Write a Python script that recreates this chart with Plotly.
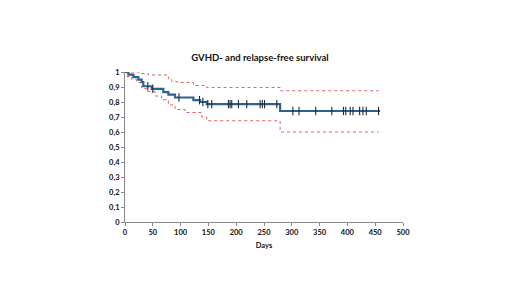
import plotly.graph_objects as go
import numpy as np

# Kaplan-Meier step data (estimated)
km_days = [0, 6, 15, 24, 30, 33, 48, 69, 78, 90, 123, 135, 147, 279, 459]
km_surv = [1.0, 0.983, 0.966, 0.949, 0.932, 0.905, 0.888, 0.866, 0.849, 0.830, 0.812, 0.800, 0.786, 0.740, 0.740]

upper_days = [0, 27, 42, 78, 84, 96, 123, 147, 279, 456]
upper_vals = [1.0, 0.99, 0.98, 0.955, 0.935, 0.93, 0.91, 0.897, 0.875, 0.875]

lower_days = [0, 3, 12, 21, 30, 39, 54, 66, 78, 90, 108, 138, 147, 279, 456]
lower_vals = [1.0, 0.97, 0.95, 0.93, 0.89, 0.87, 0.84, 0.815, 0.78, 0.75, 0.73, 0.70, 0.675, 0.60, 0.60]

censor_days = [41, 50, 97, 134, 140, 149, 156, 186, 189, 192, 204, 219, 243, 247, 251, 273,
               302, 313, 343, 372, 393, 397, 405, 410, 422, 428, 434, 456]

x_ticks = list(range(0, 501, 50))
y_ticks = [0, 0.1, 0.2, 0.3, 0.4, 0.5, 0.6, 0.7, 0.8, 0.9, 1]
y_tick_labels = ["0", "0,1", "0,2", "0,3", "0,4", "0,5", "0,6", "0,7", "0,8", "0,9", "1"]

def step_at(days, vals, t):
    idx = np.searchsorted(np.array(days), t, side="right") - 1
    return vals[idx]

censor_y = [step_at(km_days, km_surv, t) for t in censor_days]

fig = go.Figure()
ci_color = "#E0605A"
fig.add_trace(go.Scatter(x=upper_days, y=upper_vals, mode="lines", line_shape="hv",
                         line=dict(color=ci_color, width=1, dash="dot"), hoverinfo="skip"))
fig.add_trace(go.Scatter(x=lower_days, y=lower_vals, mode="lines", line_shape="hv",
                         line=dict(color=ci_color, width=1, dash="dot"), hoverinfo="skip"))
fig.add_trace(go.Scatter(x=km_days, y=km_surv, mode="lines", line_shape="hv",
                         line=dict(color="#2F6190", width=2.2)))
fig.add_trace(go.Scatter(x=censor_days, y=censor_y, mode="markers",
                         marker=dict(symbol="line-ns", size=6,
                                     line=dict(color="#1B2B3B", width=1.1))))

font_fam = "Lato, 'Open Sans', Arial, sans-serif"
fig.update_layout(
    width=520, height=292,
    margin=dict(l=117, r=125, t=64, b=78, autoexpand=False),
    paper_bgcolor="white", plot_bgcolor="white",
    showlegend=False,
    title=dict(text="<b>GVHD- and relapse-free survival</b>", x=(260 - 8) / 520, xanchor="center",
               y=1 - 50 / 292, yanchor="middle",
               font=dict(family=font_fam, size=9.5, color="#111")),
    font=dict(family=font_fam, color="#111"),
    xaxis=dict(range=[0, 500], tickvals=x_ticks, ticktext=[f"<b>{v}</b>" for v in x_ticks],
               showgrid=False, zeroline=False, showline=True, linecolor="#8a8a8a", linewidth=1,
               ticks="outside", ticklen=3, tickcolor="#8a8a8a",
               tickfont=dict(size=7.5, family=font_fam),
               title=dict(text="<b>Days</b>", font=dict(size=7.5, family=font_fam), standoff=6)),
    yaxis=dict(range=[0, 1], tickvals=y_ticks, ticktext=[f"<b>{t}</b>" for t in y_tick_labels],
               showgrid=False, zeroline=False, showline=True, linecolor="#8a8a8a", linewidth=1,
               ticks="outside", ticklen=3, tickcolor="#8a8a8a",
               tickfont=dict(size=7.5, family=font_fam)),
)
fig.write_html("out.html")
